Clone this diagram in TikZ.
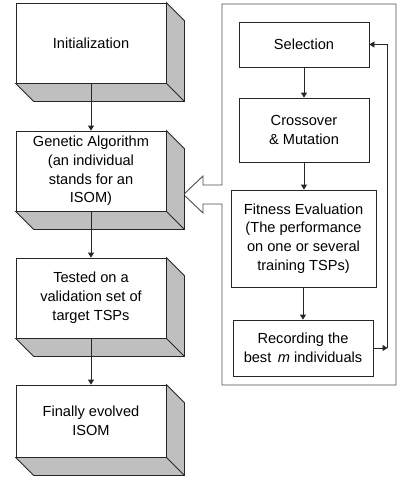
\documentclass[tikz,border=0pt]{standalone}
\usepackage{fontspec}
\setmainfont{Liberation Sans}
\usetikzlibrary{arrows.meta,calc}
\tikzset{
  flowbox/.style={draw=black!85, line width=0.8pt, fill=white, align=center, inner sep=2pt,
    font=\fontsize{14.6}{18.8}\selectfont},
  arr/.style={draw=black!85, line width=0.8pt, -{Triangle[length=5pt,width=6pt]}},
  plain/.style={draw=black!85, line width=0.8pt},
  panel/.style={draw=black!70, line width=0.9pt},
  sideface/.style={draw=black!85, line width=0.8pt, fill=black!25, line join=miter}
}
\newcommand{\boxdepth}[1]{%
  \filldraw[sideface] (#1.north east) -- ++(18,18) -- ([shift={(18,18)}]#1.south east)
    -- ([shift={(18,18)}]#1.south west) -- (#1.south west) -- (#1.south east) -- cycle;
  \draw[plain] (#1.south east) -- ++(18,18);
}
\begin{document}
\begin{tikzpicture}[x=1pt,y=-1pt]
\useasboundingbox (0,0) rectangle (397,477);
% right panel with hollow arrow
\draw[panel, line join=miter] (222,185) -- (222,4) -- (396,4) -- (396,385) -- (222,385) -- (222,204)
  -- (203,204) -- (203,213) -- (183.5,194.5) -- (203,176) -- (203,185) -- cycle;
% left 3D boxes
\node[flowbox, minimum width=150pt, minimum height=80pt] (init) at (91,43) {Initialization};
\node[flowbox, minimum width=150pt, minimum height=80pt] (ga) at (91,171) {Genetic Algorithm\\(an individual\\stands for an\\ISOM)};
\node[flowbox, minimum width=150pt, minimum height=80pt] (test) at (91,298) {Tested on a\\validation set of\\target TSPs};
\node[flowbox, minimum width=150pt, minimum height=72pt] (final) at (91,421) {Finally evolved\\ISOM};
\boxdepth{init}
\boxdepth{ga}
\boxdepth{test}
\boxdepth{final}
% right boxes
\node[flowbox, minimum width=130pt, minimum height=45pt] (sel) at (304,44.5) {Selection};
\node[flowbox, minimum width=130pt, minimum height=64pt] (cross) at (304,130) {Crossover\\\& Mutation};
\node[flowbox, minimum width=145pt, minimum height=97pt] (fit) at (303.5,238.5) {Fitness Evaluation\\(The performance\\on one or several\\training TSPs)};
\node[flowbox, minimum width=140pt, minimum height=56pt] (rec) at (303,348) {Recording the\\best \,\textit{m} individuals};
% connectors left
\draw[arr] (init.south) -- (ga.north);
\draw[arr] (ga.south) -- (test.north);
\draw[arr] (test.south) -- (final.north);
% connectors right
\draw[arr] (sel.south) -- (sel.south |- cross.north);
\draw[arr] (cross.south) -- (cross.south |- fit.north);
\draw[arr] (fit.south -| rec.north) -- (rec.north);
\coordinate (fbB) at (387.5,348);
\coordinate (fbT) at (387.5,44.5);
\draw[arr] (rec.east) -- (fbB);
\draw[arr] (fbB) -- (fbT) -- (sel.east);
\end{tikzpicture}
\end{document}
